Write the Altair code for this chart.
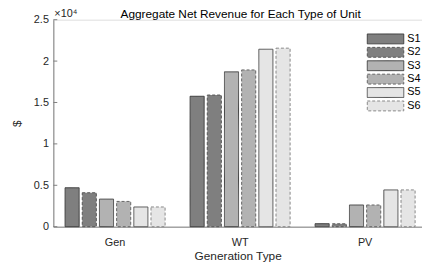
import altair as alt
import pandas as pd

categories = ["Gen", "WT", "PV"]
series = ["S1", "S2", "S3", "S4", "S5", "S6"]
gen_values = [4700, 4100, 3330, 3050, 2380, 2380]
wt_values = [15750, 15900, 18700, 18930, 21430, 21560]
pv_values = [360, 350, 2620, 2620, 4440, 4440]
y_ticks = [0, 5000, 10000, 15000, 20000, 25000]
exponent_label = ["×10⁴"]

rows = []
for cat, vals in zip(categories, [gen_values, wt_values, pv_values]):
    for s, v in zip(series, vals):
        rows.append({"type": cat, "series": s, "revenue": v})
df = pd.DataFrame(rows)

fills = ["#7f7f7f", "#7f7f7f", "#b2b2b2", "#b2b2b2", "#e5e5e5", "#e5e5e5"]
strokes = ["#3f3f3f", "#555555", "#404040", "#666666", "#505050", "#888888"]
dashes = [[1, 0], [3, 2], [1, 0], [3, 2], [1, 0], [3, 2]]

font = "Liberation Sans"
axis_col = "#808080"
text_col = "#262626"

legend = alt.Legend(
    title=None, orient="none", legendX=318, legendY=14,
    symbolType="M-1,-1H6.4V1H-1Z", symbolSize=100, symbolStrokeWidth=1,
    symbolOpacity=1, labelOffset=30, labelFont=font, labelFontSize=11,
    labelColor="#000000", rowPadding=-1.4, padding=0,
)

bars = alt.Chart(df).mark_bar(strokeWidth=1, opacity=1).encode(
    x=alt.X("type:N", sort=categories, title="Generation Type",
            scale=alt.Scale(domain=categories, paddingInner=0.2, paddingOuter=0.0745, align=0.63),
            axis=alt.Axis(labelAngle=0, ticks=False, labelPadding=10, titlePadding=3,
                          domainColor=axis_col, labelFont=font, labelFontSize=11,
                          labelColor=text_col, titleFont=font, titleFontSize=12,
                          titleFontWeight="normal", titleColor=text_col)),
    xOffset=alt.XOffset("series:N", sort=series,
                        scale=alt.Scale(domain=series, paddingInner=0.18, paddingOuter=0)),
    y=alt.Y("revenue:Q", title="$",
            scale=alt.Scale(domain=[0, 25000], nice=False),
            axis=alt.Axis(values=y_ticks, labelExpr="'' + datum.value/10000", grid=False,
                          ticks=False, labelPadding=5, domainColor=axis_col,
                          labelFont=font, labelFontSize=11, labelColor=text_col,
                          titleFont=font, titleFontSize=12, titleFontWeight="normal",
                          titleColor=text_col, titleX=-37, titleY=105,
                          titleAlign="center", titleBaseline="middle")),
    fill=alt.Fill("series:N", sort=series, scale=alt.Scale(domain=series, range=fills), legend=legend),
    stroke=alt.Stroke("series:N", sort=series, scale=alt.Scale(domain=series, range=strokes), legend=legend),
    strokeDash=alt.StrokeDash("series:N", sort=series, scale=alt.Scale(domain=series, range=dashes), legend=legend),
)

tick_marks = alt.Chart(pd.DataFrame({"v": y_ticks})).mark_rule(color=axis_col, strokeWidth=1).encode(
    y="v:Q", x=alt.value(0), x2=alt.value(4)
)

exp_text = alt.Chart(pd.DataFrame({"t": exponent_label})).mark_text(
    font=font, fontSize=11, color=text_col, align="left", baseline="bottom"
).encode(text="t:N", x=alt.value(1), y=alt.value(-0.5))

chart = alt.layer(bars, tick_marks, exp_text).properties(
    width=374, height=210,
    padding={"left": 46, "top": 10, "right": 0, "bottom": 36},
    autosize=alt.AutoSizeParams(type="none"),
    title=alt.TitleParams("Aggregate Net Revenue for Each Type of Unit", font=font, fontSize=12,
                          fontWeight="normal", color="#000000", offset=1, dx=3, dy=14),
).configure_view(stroke=None).configure(background="white")

chart.save("out.html", embed_options={"renderer": "svg", "actions": False})
